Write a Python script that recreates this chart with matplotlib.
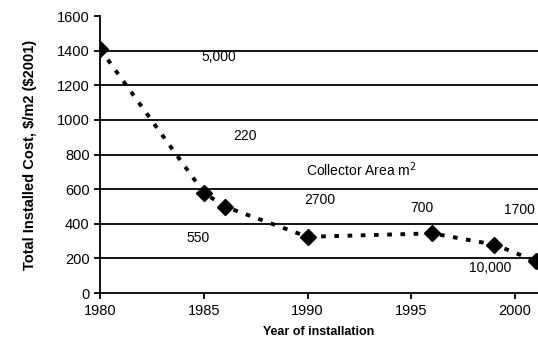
import matplotlib.pyplot as plt

# datos
years = [1980, 1985, 1986, 1990, 1996, 1999, 2001]
cost = [1410, 580, 500, 325, 345, 280, 185]

# etiquetas de area de colector
area_labels = ["5,000", "550", "220", "2700", "700", "1700", "10,000"]
label_x = [1985.7, 1984.7, 1987.0, 1990.6, 1995.5, 2000.2, 1998.8]
label_y = [1365, 320, 910, 540, 490, 480, 145]

plt.rcParams['font.family'] = ['Liberation Sans', 'DejaVu Sans']

fig = plt.figure(figsize=(5.38, 3.57), dpi=100)
ax = fig.add_axes([0.186, 0.179, 0.814, 0.776])

for yv in range(200, 1600, 200):
    ax.axhline(yv, color='black', lw=1.3, zorder=1)

ax.plot(years, cost, color='black', ls=(0, (1.2, 2.2)), lw=2.8, zorder=2)
ax.plot(years, cost, color='black', ls='none', marker='D', markersize=8, zorder=3)

for t, x, y in zip(area_labels, label_x, label_y):
    ax.text(x, y, t, fontsize=10, ha='center', va='center')
ax.text(1992.6, 710, "Collector Area m$^2$", fontsize=10, ha='center', va='center')

ax.set_xlim(1980, 2001.1)
ax.set_ylim(0, 1600)
ax.set_xticks([1980, 1985, 1990, 1995, 2000])
ax.set_yticks(range(0, 1601, 200))
ax.tick_params(labelsize=10.5, width=1.3, length=4)
ax.spines['top'].set_visible(False)
ax.spines['right'].set_visible(False)
ax.spines['left'].set_linewidth(1.3)
ax.spines['bottom'].set_linewidth(1.3)
for s in ['left', 'bottom']:
    ax.spines[s].set_clip_on(False)

ax.set_xlabel("Year of installation", fontsize=9, fontweight='bold', labelpad=6)
ax.set_ylabel("Total Installed Cost, \\$/m2 (\\$2001)", fontsize=10.5, fontweight='bold', labelpad=14)

fig.savefig("out.png", dpi=100)
